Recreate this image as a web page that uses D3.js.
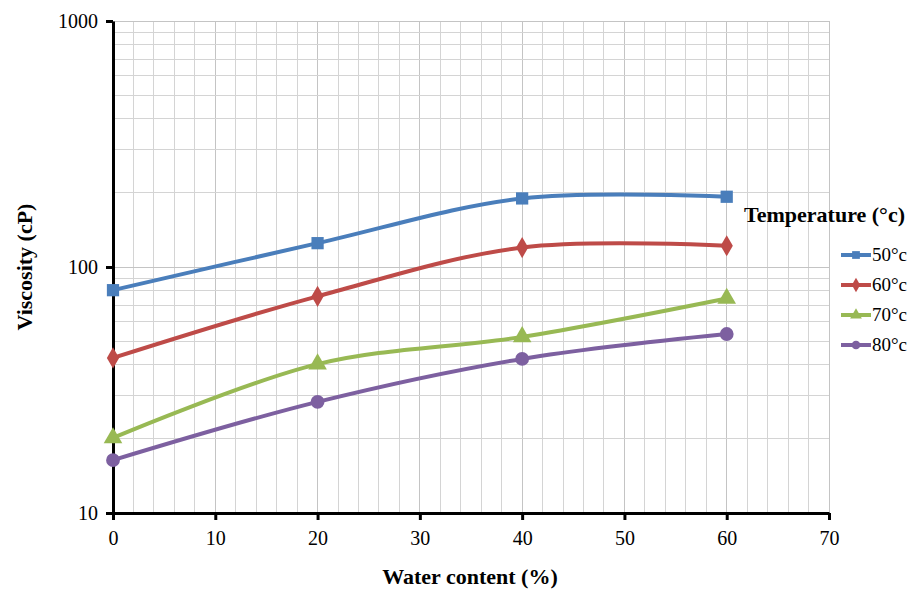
<!doctype html>
<html lang="en">
<head>
  <meta charset="utf-8">
  <title>viscosity</title>
  <style>
    body { margin: 0; background: #fff; }
    .grid line { stroke: #d4d4d4; stroke-width: 1; shape-rendering: crispEdges; }
    .grid line.major { stroke: #c4c4c4; }
    .axis path, .axis line { stroke: #000; stroke-width: 3; fill: none; }
  </style>
</head>
<body>
<svg class="chart" width="910" height="592" style="font-family:'Liberation Serif',serif"></svg>
<script src="https://d3js.org/d3.v7.min.js"></script>
<script>
  'use strict';

  const waterContent = [0, 20, 40, 60];
  const temps = ['50°c', '60°c', '70°c', '80°c'];
  const visc50 = [80.5, 125, 190, 193];
  const visc60 = [42.7, 76, 120, 122];
  const visc70 = [20.2, 40.3, 52, 74.5];
  const visc80 = [16.4, 28.3, 42.3, 53.4];
  const xTicks = [0, 10, 20, 30, 40, 50, 60, 70];
  const yTicks = [10, 100, 1000];

  const colors = ['#4a7ebb', '#be4b48', '#98b954', '#7d60a0'];
  const shapes = [d3.symbolSquare, d3.symbolDiamond, d3.symbolTriangle, d3.symbolCircle];

  const series = [visc50, visc60, visc70, visc80].map((vals, i) => ({
    name: temps[i],
    points: waterContent.map((w, j) => ({x: w, y: vals[j]}))
  }));

  const W = 910, H = 592;
  const margin = {top: 21, right: 81, bottom: 79, left: 113};
  const width = W - margin.left - margin.right;
  const height = H - margin.top - margin.bottom;

  const xScale = d3.scaleLinear().domain([0, 70]).range([0, width]);
  const yScale = d3.scaleLog().domain([10, 1000]).range([height, 0]);

  const svg = d3.select('.chart');
  const g = svg.append('g')
    .attr('transform', `translate(${margin.left},${margin.top})`);

  // grid
  const grid = g.append('g').attr('class', 'grid');
  grid.selectAll('.vx').data(d3.range(2, 71, 2)).enter().append('line')
    .attr('class', d => d % 10 === 0 ? 'major' : null)
    .attr('x1', d => xScale(d)).attr('x2', d => xScale(d))
    .attr('y1', 0).attr('y2', height);
  const minorY = [];
  [10, 100].forEach(dec => { for (let k = 1; k <= 10; k++) minorY.push(dec * k); });
  grid.selectAll('.hy').data(minorY).enter().append('line')
    .attr('class', d => yTicks.includes(d) ? 'major' : null)
    .attr('x1', 0).attr('x2', width)
    .attr('y1', d => yScale(d)).attr('y2', d => yScale(d));

  // axes (drop d3's sans-serif so the svg's serif is inherited)
  const xAx = g.append('g').attr('class', 'axis axis--x')
    .attr('transform', `translate(0,${height})`)
    .call(d3.axisBottom(xScale).tickValues(xTicks).tickSize(7).tickPadding(8).tickSizeOuter(0));
  xAx.selectAll('text').attr('dy', '0.85em');
  g.append('g').attr('class', 'axis axis--y')
    .call(d3.axisLeft(yScale).tickValues(yTicks).tickFormat(d3.format('d')).tickSize(7).tickPadding(8).tickSizeOuter(0));
  g.selectAll('.axis').attr('font-family', null).attr('font-size', 20);
  g.selectAll('.axis text').attr('fill', '#000');

  // lines
  const line = d3.line()
    .x(d => xScale(d.x))
    .y(d => yScale(d.y))
    .curve(d3.curveCatmullRom.alpha(0.5));

  const sg = g.selectAll('.series').data(series).enter().append('g').attr('class', 'series');
  sg.append('path')
    .attr('d', d => line(d.points))
    .attr('fill', 'none')
    .attr('stroke', (d, i) => colors[i])
    .attr('stroke-width', 4);
  sg.each(function(d, i) {
    d3.select(this).selectAll('.pt').data(d.points).enter().append('path')
      .attr('transform', p => `translate(${xScale(p.x)},${yScale(p.y)})`)
      .attr('d', d3.symbol().type(shapes[i]).size(i === 1 ? 130 : 150))
      .attr('fill', colors[i]);
  });

  function label(el) {
    return el.attr('font-size', 22)
      .attr('font-weight', 'bold')
      .attr('fill', '#000');
  }

  // axis titles
  svg.append('text').call(label)
    .attr('x', 470).attr('y', 584)
    .attr('text-anchor', 'middle')
    .text('Water content (%)');
  svg.append('text').call(label)
    .attr('transform', `translate(32,${margin.top + height / 2}) rotate(-90)`)
    .attr('text-anchor', 'middle')
    .text('Viscosity (cP)');

  // legend
  svg.append('text').call(label)
    .attr('x', 905).attr('y', 222)
    .attr('text-anchor', 'end')
    .text('Temperature (°c)');
  const leg = svg.append('g').selectAll('g').data(series).enter().append('g')
    .attr('transform', (d, i) => `translate(841,${255 + i * 30})`);
  leg.append('line')
    .attr('x1', 0).attr('x2', 30).attr('y1', 0).attr('y2', 0)
    .attr('stroke', (d, i) => colors[i]).attr('stroke-width', 4);
  leg.append('path')
    .attr('transform', 'translate(15,0)')
    .attr('d', (d, i) => d3.symbol().type(shapes[i]).size(60)())
    .attr('fill', (d, i) => colors[i]);
  leg.append('text')
    .attr('x', 31).attr('y', 6)
    .attr('font-size', 19)
    .attr('fill', '#000')
    .text(d => d.name);
</script>
</body>
</html>
